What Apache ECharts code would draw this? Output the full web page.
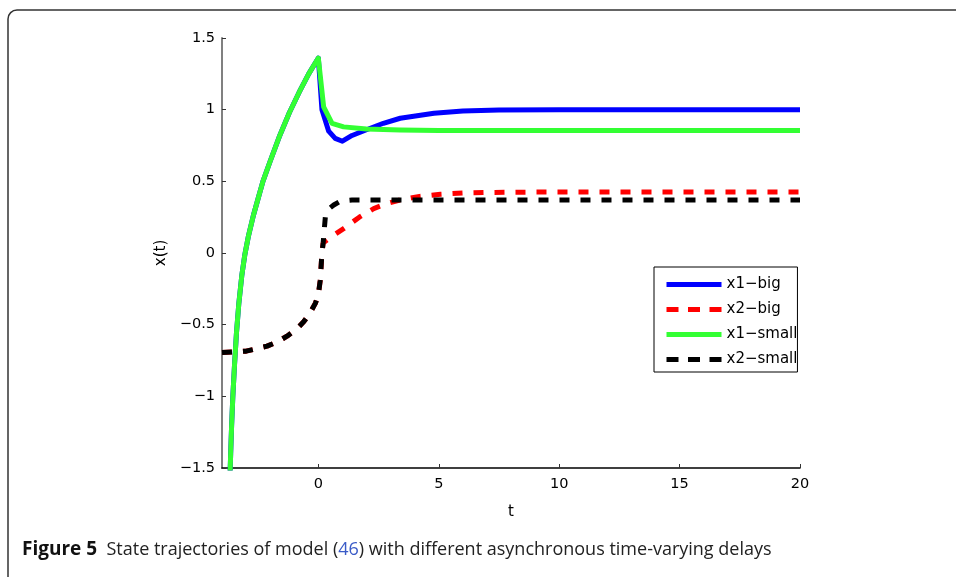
<!DOCTYPE html>
<html><head><meta charset="utf-8">
<script src="https://cdn.jsdelivr.net/npm/echarts@6/dist/echarts.min.js"></script>
<style>html,body{margin:0;padding:0;background:#fff}#c{width:956px;height:577px}</style>
</head><body><div id="c"></div>
<script>
// ---- data ----
const seriesNames = ['x1\u2212big', 'x2\u2212big', 'x1\u2212small', 'x2\u2212small'];
const xTicks = [0, 5, 10, 15, 20];

// shared history of x1 (t <= 0)
const tX1Pre = [-3.68, -3.64, -3.6, -3.55, -3.48, -3.4, -3.3, -3.18, -3.05, -2.9, -2.7, -2.5, -2.3, -2.0, -1.6, -1.2, -0.8, -0.4, 0];
const vX1Pre = [-1.62, -1.4, -1.2, -1.0, -0.78, -0.56, -0.35, -0.16, -0.01, 0.12, 0.26, 0.38, 0.5, 0.64, 0.82, 0.98, 1.12, 1.25, 1.36];
// x1 big delay after t=0
const tX1Big = [0.15, 0.43, 0.7, 1.0, 1.4, 2.0, 2.7, 3.4, 4.8, 6, 7.5, 10, 20];
const vX1Big = [1.0, 0.85, 0.80, 0.78, 0.82, 0.86, 0.905, 0.94, 0.975, 0.99, 0.998, 1.0, 1.0];
// x1 small delay after t=0
const tX1Small = [0.22, 0.57, 1.05, 2, 3.4, 5, 20];
const vX1Small = [1.02, 0.905, 0.88, 0.865, 0.858, 0.855, 0.855];

// shared history of x2
const tX2Pre = [-4, -3, -2.13, -1.7, -1.3, -0.9, -0.61, -0.35, -0.12, 0, 0.08, 0.15, 0.2];
const vX2Pre = [-0.695, -0.685, -0.65, -0.62, -0.58, -0.53, -0.48, -0.42, -0.35, -0.29, -0.19, 0, 0.07];
// x2 big delay after
const tX2Big = [0.36, 0.6, 1.05, 1.7, 2.3, 2.85, 3.4, 4.2, 5.07, 6, 7, 9, 12, 20];
const vX2Big = [0.09, 0.12, 0.17, 0.25, 0.31, 0.345, 0.37, 0.395, 0.41, 0.418, 0.422, 0.425, 0.426, 0.426];
// x2 small delay after
const tX2Small = [0.29, 0.45, 0.64, 0.85, 1.05, 1.4, 1.74, 3, 20];
const vX2Small = [0.25, 0.31, 0.335, 0.355, 0.365, 0.37, 0.37, 0.37, 0.37];

function pairs(ts, vs) { return ts.map((t, i) => [t, vs[i]]); }
const dX1Big = pairs(tX1Pre.concat(tX1Big), vX1Pre.concat(vX1Big));
const dX1Small = pairs(tX1Pre.concat(tX1Small), vX1Pre.concat(vX1Small));
const dX2Big = pairs(tX2Pre.concat(tX2Big), vX2Pre.concat(vX2Big));
const dX2Small = pairs(tX2Pre.concat(tX2Small), vX2Pre.concat(vX2Small));

const colors = ['#0000ff', '#ff0000', '#33ff33', '#000000'];
const dashed = [false, true, false, true];

const chart = echarts.init(document.getElementById('c'), null, {renderer: 'canvas'});
const fontMain = 'DejaVu Sans';
function lineSeries(i, data) {
  return {
    name: seriesNames[i], type: 'line', data: data, showSymbol: false, symbol: 'none',
    clip: true, animation: false,
    lineStyle: {color: colors[i], width: 5, type: dashed[i] ? [10, 11] : 'solid', cap: 'butt', join: 'round'},
    itemStyle: {color: colors[i]}
  };
}
chart.setOption({
  animation: false,
  backgroundColor: '#fff',
  grid: {left: 222, right: 156, top: 38, bottom: 109, containLabel: false},
  xAxis: {
    type: 'value', min: -4, max: 20,
    name: 't', nameLocation: 'middle', nameGap: 37,
    nameTextStyle: {fontFamily: fontMain, fontSize: 15, color: '#000'},
    axisLine: {show: true, onZero: false, lineStyle: {color: '#000', width: 1.5}},
    axisTick: {show: true, inside: true, length: 4, customValues: xTicks, lineStyle: {color: '#333'}},
    axisLabel: {customValues: xTicks, fontFamily: fontMain, fontSize: 14.5, color: '#000', margin: 9},
    splitLine: {show: false}
  },
  yAxis: {
    type: 'value', min: -1.5, max: 1.5, interval: 0.5,
    name: 'x(t)', nameLocation: 'middle', nameGap: 50, nameRotate: 90,
    nameTextStyle: {fontFamily: fontMain, fontSize: 15, color: '#000'},
    axisLine: {show: true, onZero: false, lineStyle: {color: '#808080', width: 2}},
    axisTick: {show: true, inside: true, length: 4, lineStyle: {color: '#333'}},
    axisLabel: {fontFamily: fontMain, fontSize: 14.5, color: '#000', margin: 7,
      formatter: v => String(v).replace('-', '\u2212')},
    splitLine: {show: false}
  },
  legend: {
    orient: 'vertical', left: 654, top: 267,
    data: seriesNames.map((n, i) => ({
      name: n,
      itemStyle: {opacity: 0},
      lineStyle: {width: 5, color: colors[i], type: dashed[i] ? [12, 9.5] : 'solid', cap: 'butt'}
    })),
    backgroundColor: '#fff', borderColor: '#000', borderWidth: 1, borderRadius: 0,
    padding: [10, 0, 5, 10],
    itemWidth: 55, itemHeight: 15, itemGap: 10,
    textStyle: {fontFamily: fontMain, fontSize: 15, lineHeight: 15, color: '#000'},
    selectedMode: false
  },
  series: [
    lineSeries(0, dX1Big),
    lineSeries(1, dX2Big),
    lineSeries(2, dX1Small),
    lineSeries(3, dX2Small)
  ],
  graphic: [
    {type: 'rect', z: -10, silent: true,
      shape: {x: 8, y: 10, width: 1000, height: 620, r: 9},
      style: {fill: 'none', stroke: '#333', lineWidth: 1.5}},
    {type: 'text', left: 22, top: 540, silent: true,
      style: {
        text: '{b|Figure 5}  State trajectories of model ({l|46}) with different asynchronous time-varying delays',
        fontFamily: 'Open Sans', fontSize: 18, fill: '#222',
        rich: {
          b: {fontFamily: 'Open Sans', fontSize: 19, fontWeight: 'bold', fill: '#111'},
          l: {fontFamily: 'Open Sans', fontSize: 18, fill: '#3a5bc7'}
        }
      }}
  ]
});
</script>
</body></html>
